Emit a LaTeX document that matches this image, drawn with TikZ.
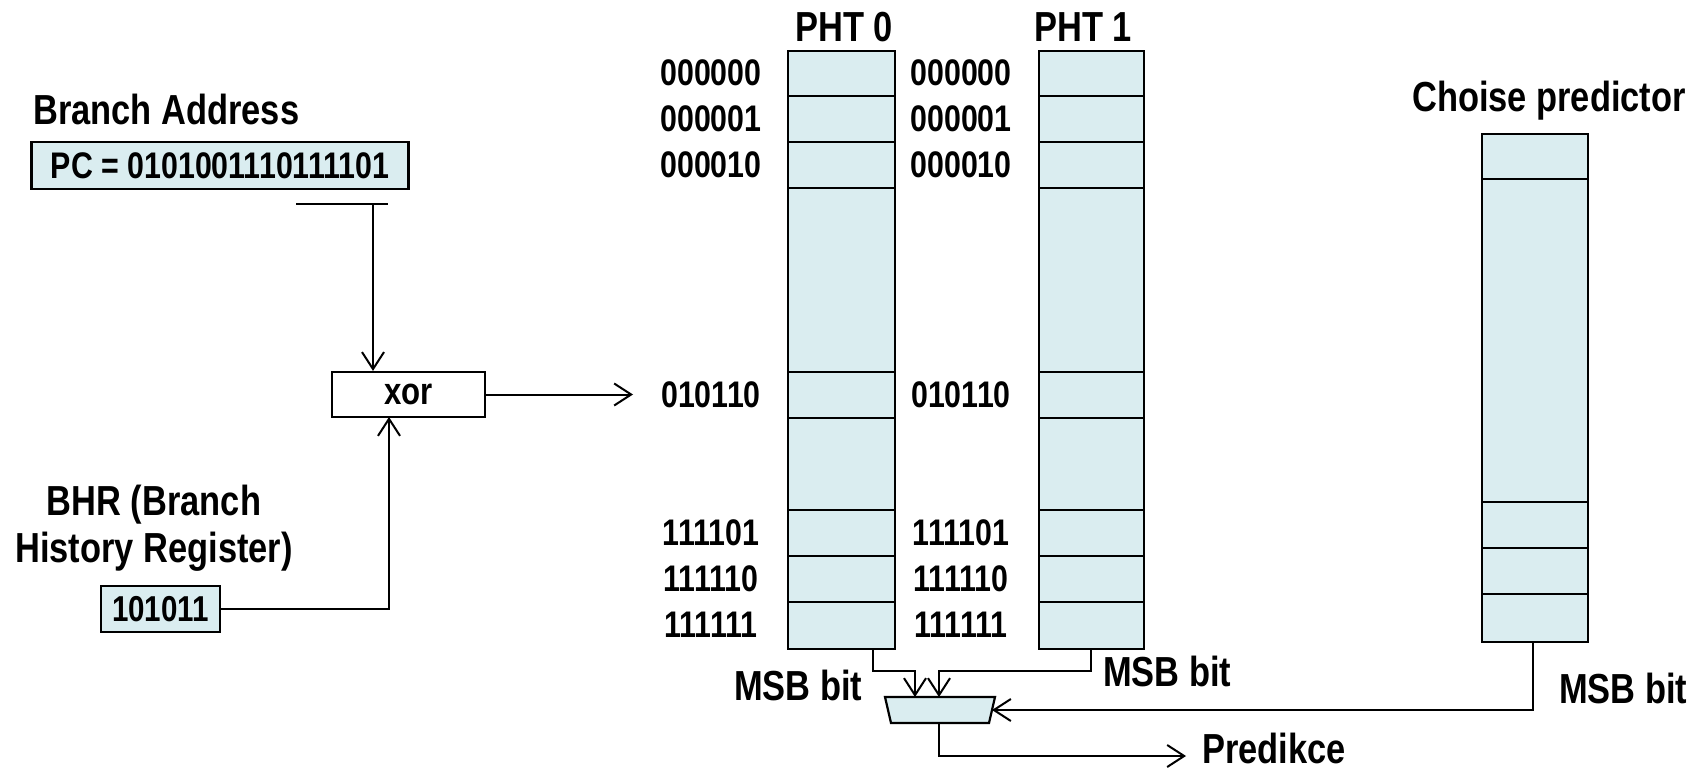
\documentclass[tikz,border=0pt]{standalone}
\usepackage{fontspec}
\setmainfont{Liberation Sans}[FakeStretch=0.82]
\usetikzlibrary{arrows.meta}
\definecolor{cellfill}{RGB}{218,237,240}
\begin{document}
\begin{tikzpicture}[x=1pt,y=-1pt,
  lbl/.style={font=\fontsize{42}{48}\selectfont\bfseries, inner sep=0pt},
  addr/.style={font=\fontsize{37}{42}\selectfont\bfseries, inner sep=0pt},
  box/.style={draw, line width=2.2pt, inner sep=0pt},
  cellbox/.style={draw, line width=2.2pt, fill=cellfill, inner sep=0pt},
  rowline/.style={line width=2.2pt},
  conn/.style={line width=2pt},
  arr/.style={conn, -{Straight Barb[length=17pt,width=22pt,line width=2pt]}},
]
\useasboundingbox (0,0) rectangle (1699,770);

% left side
\node[lbl, anchor=base west] (ba) at (33,125) {Branch Address};
\node[cellbox, minimum width=377pt, minimum height=47pt, font=\fontsize{37}{42}\selectfont\bfseries] (pc) at (220,165.5) {PC = 0101001110111101};
\coordinate (barL) at (296,204);
\coordinate (barR) at (388,204);
\coordinate (barT) at (373,204);
\draw[conn] (barL) -- (barR);

\node[box, fill=white, minimum width=153pt, minimum height=45pt, font=\fontsize{38}{44}\selectfont\bfseries] (xor) at (408.5,394.5) {xor};
\draw[arr] (barT) -- (barT |- xor.north);

\node[lbl, anchor=base] (bhrl1) at (154,515) {BHR (Branch};
\node[lbl, anchor=base] (bhrl2) at (154,562) {History Register)};
\node[cellbox, minimum width=119pt, minimum height=46pt, font=\fontsize{36}{40}\selectfont\bfseries] (bhr) at (160.5,609) {101011};
\coordinate (xin) at (389,417);
\draw[arr] (bhr.east) -| (xin);
\coordinate (xout) at (633,394.5);
\draw[arr] (xor.east) -- (xout);

% tables
\node[cellbox, minimum width=107pt, minimum height=598pt, anchor=north west] (pht0) at (787,50) {};
\node[cellbox, minimum width=105pt, minimum height=598pt, anchor=north west] (pht1) at (1038,50) {};
\foreach \y in {96,142,188,372,418,510,556,602} {
  \draw[rowline] (pht0.west |- 0,\y) -- (pht0.east |- 0,\y);
  \draw[rowline] (pht1.west |- 0,\y) -- (pht1.east |- 0,\y);
}
\node[lbl, anchor=base] (t0) at (844,42) {PHT 0};
\node[lbl, anchor=base] (t1) at (1083,42) {PHT 1};

\foreach \y/\t in {73/000000, 119/000001, 165/000010, 395/010110, 533/111101, 579/111110, 625/111111} {
  \node[addr] (la\y) at (711,\y) {\t};
  \node[addr] (lb\y) at (961,\y) {\t};
}

\node[cellbox, minimum width=106pt, minimum height=508pt, anchor=north west] (cp) at (1481,133) {};
\foreach \y in {179,502,548,594} {
  \draw[rowline] (cp.west |- 0,\y) -- (cp.east |- 0,\y);
}
\node[lbl, anchor=base] (cpl) at (1549,112) {Choise predictor};

% mux
\coordinate (mTL) at (885,697);
\coordinate (mTR) at (995,697);
\coordinate (mBR) at (989,723);
\coordinate (mBL) at (891,723);
\draw[cellbox] (mTL) -- (mTR) -- (mBR) -- (mBL) -- cycle;
\coordinate (m0) at (915,697);
\coordinate (m1) at (939,697);
\coordinate (mc) at (992,710);
\coordinate (mo) at (939,723);

\coordinate (p0o) at (873,648);
\coordinate (p0k) at (873,671);
\coordinate (p1o) at (1091,648);
\coordinate (p1k) at (1091,671);
\coordinate (cpo) at (1533,641);
\coordinate (pend) at (1186,756);

\draw[arr] (p0o) -- (p0k) -| (m0);
\draw[arr] (p1o) -- (p1k) -| (m1);
\draw[arr] (cpo) |- (mc);
\draw[arr] (mo) |- (pend);

\node[lbl, anchor=base west] (msb0) at (734,700) {MSB bit};
\node[lbl, anchor=base west] (msb1) at (1103,686) {MSB bit};
\node[lbl, anchor=base west] (msb2) at (1559,703) {MSB bit};
\node[lbl, anchor=base west] (pred) at (1202,763) {Predikce};
\end{tikzpicture}
\end{document}
